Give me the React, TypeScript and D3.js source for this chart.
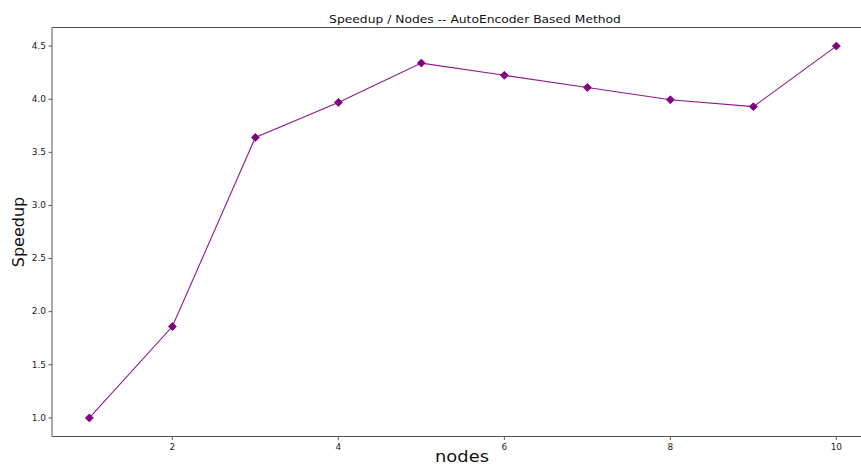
import React from "react";
import * as d3 from "d3";

const nodes = [1, 2, 3, 4, 5, 6, 7, 8, 9, 10];
const speedup = [1.0, 1.86, 3.64, 3.97, 4.34, 4.225, 4.11, 3.995, 3.93, 4.5];
const xTicks = [2, 4, 6, 8, 10];
const yTicks = [1.0, 1.5, 2.0, 2.5, 3.0, 3.5, 4.0, 4.5];
const title = "Speedup / Nodes -- AutoEncoder Based Method";
const xLabel = "nodes";
const yLabel = "Speedup";

export default function App() {
  const W = 861, H = 465;
  const left = 52, top = 27.5, bottom = 436.5;
  const x = d3.scaleLinear().domain([0.55, 10.45]).range([left, left + 9.9 * 83]);
  const y = d3.scaleLinear().domain([0.825, 4.675]).range([bottom, top]);
  const line = d3.line<number>().x((_, i) => x(nodes[i])).y((d) => y(d));
  const color = "#800080";
  const font = "DejaVu Sans, sans-serif";
  const right = x(10.45);
  const sx = 1.12;
  const stretched = (tx: number, ty: number) => `translate(${tx},${ty}) scale(${sx},1)`;
  return (
    <div style={{ position: "fixed", left: 0, top: 0 }}>
      <svg width={W} height={H} style={{ display: "block", background: "#fff" }}>
        <text transform={stretched(475, 23)} textAnchor="middle" fontFamily={font} fontSize={11} fill="#111">{title}</text>
        {yTicks.map((t) => (
          <g key={t}>
            <line x1={left - 3.5} x2={left} y1={y(t)} y2={y(t)} stroke="#333" strokeWidth={0.8} />
            <text transform={stretched(left - 6, y(t))} dy="0.35em" textAnchor="end" fontFamily={font} fontSize={8} fill="#222">{t.toFixed(1)}</text>
          </g>
        ))}
        {xTicks.map((t) => (
          <g key={t}>
            <line x1={x(t)} x2={x(t)} y1={bottom} y2={bottom + 3.5} stroke="#333" strokeWidth={0.8} />
            <text transform={stretched(x(t), bottom + 13)} textAnchor="middle" fontFamily={font} fontSize={8} fill="#222">{t}</text>
          </g>
        ))}
        <path d={line(speedup) || ""} fill="none" stroke={color} strokeWidth={1.1} strokeOpacity={0.9} />
        {speedup.map((v, i) => {
          const cx = x(nodes[i]), cy = y(v), r = 4;
          return (
            <path key={i} d={`M${cx},${cy - r}L${cx + r},${cy}L${cx},${cy + r}L${cx - r},${cy}Z`} fill={color} stroke={color} strokeWidth={0.8} />
          );
        })}
        <line x1={left} x2={left} y1={top} y2={bottom} stroke="#555" strokeWidth={1} />
        <line x1={left} x2={right} y1={bottom} y2={bottom} stroke="#555" strokeWidth={1} />
        <line x1={left} x2={right} y1={top} y2={top} stroke="#555" strokeWidth={1} />
        <text transform={stretched(462, 462)} textAnchor="middle" fontFamily={font} fontSize={16} fill="#111">{xLabel}</text>
        <text transform={`translate(24,232) rotate(-90)`} textAnchor="middle" fontFamily={font} fontSize={16} fill="#111">{yLabel}</text>
      </svg>
    </div>
  );
}
